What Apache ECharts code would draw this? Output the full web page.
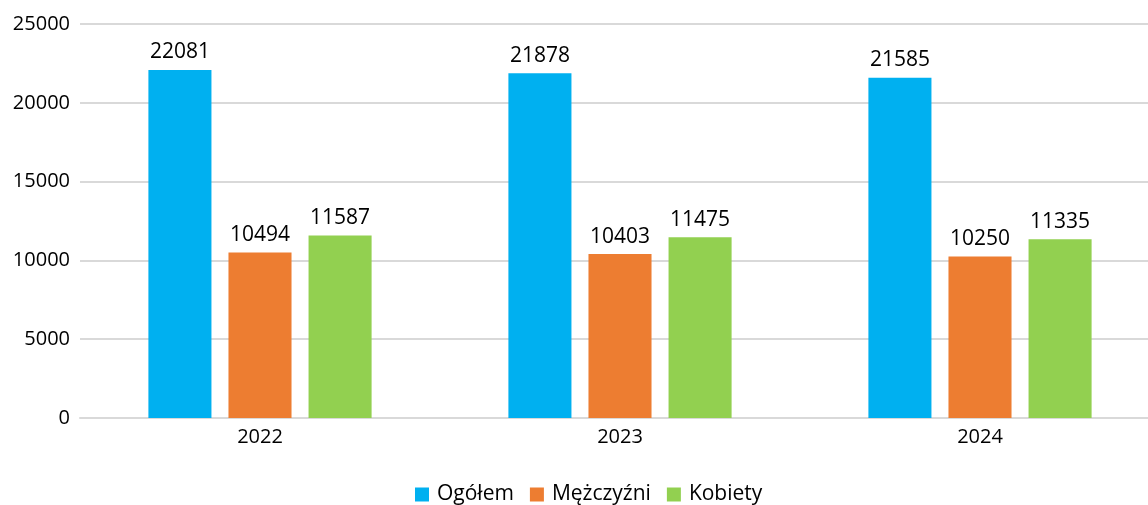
<!DOCTYPE html>
<html><head><meta charset="utf-8">
<script src="https://cdn.jsdelivr.net/npm/echarts@6/dist/echarts.min.js"></script>
<style>html,body{margin:0;padding:0;background:#fff;overflow:hidden;width:1148px;height:505px}#c{width:1160px;height:505px}</style>
</head><body><div id="c"></div>
<script>
const categories = ['2022', '2023', '2024'];
const ogolem = [22081, 21878, 21585];
const mezczyzni = [10494, 10403, 10250];
const kobiety = [11587, 11475, 11335];
const seriesNames = ['Ogółem', 'Mężczyźni', 'Kobiety'];
const colors = ['#00B0F0', '#ED7D31', '#92D050'];
const font = 'Open Sans, Liberation Sans, sans-serif';
const chart = echarts.init(document.getElementById('c'));
const lbl = {show: true, position: 'top', distance: 7, color: '#000', fontSize: 21, fontFamily: font};
chart.setOption({
  animation: false,
  grid: {left: 80, top: 24, right: 0, height: 394, containLabel: false},
  legend: {
    top: 479, left: 410, itemWidth: 14, itemHeight: 14, itemGap: 16,
    icon: 'rect', textStyle: {fontSize: 21, fontFamily: font, color: '#000', padding: [0, 0, 0, 3]},
    data: seriesNames
  },
  xAxis: {
    type: 'category', data: categories,
    axisLine: {lineStyle: {color: '#d9d9d9', width: 2}},
    axisTick: {show: false},
    axisLabel: {color: '#000', fontSize: 20, fontFamily: font, margin: 9}
  },
  yAxis: {
    type: 'value', min: 0, max: 25000, interval: 5000,
    axisLine: {show: false}, axisTick: {show: false},
    splitLine: {lineStyle: {color: '#d9d9d9', width: 2}},
    axisLabel: {color: '#000', fontSize: 20, fontFamily: font, margin: 10, formatter: v => String(v)}
  },
  series: [
    {name: seriesNames[0], type: 'bar', data: ogolem, itemStyle: {color: colors[0]}, label: lbl, barGap: '27%', barCategoryGap: '38%'},
    {name: seriesNames[1], type: 'bar', data: mezczyzni, itemStyle: {color: colors[1]}, label: lbl},
    {name: seriesNames[2], type: 'bar', data: kobiety, itemStyle: {color: colors[2]}, label: lbl}
  ]
});
</script></body></html>
